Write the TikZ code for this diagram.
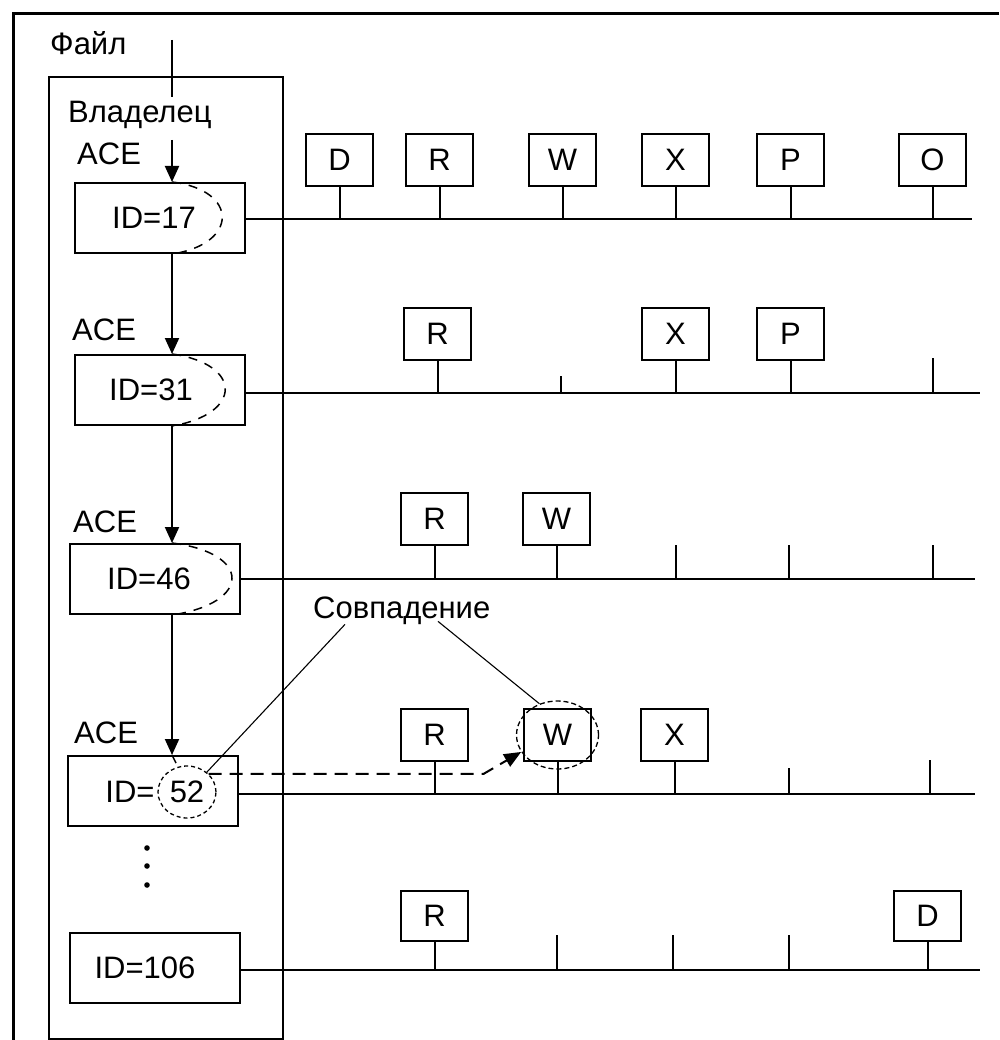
\documentclass[tikz,border=0pt]{standalone}
\usepackage{fontspec}
\setmainfont{Liberation Sans}
\usetikzlibrary{arrows.meta,calc,shapes.geometric}
\begin{document}
\begin{tikzpicture}[x=1pt,y=-1pt,
  every node/.style={font=\fontsize{31}{36}\selectfont, inner sep=0pt},
  ln/.style={line width=2pt},
  idbox/.style={draw, line width=2pt, minimum width=170pt, minimum height=70pt, anchor=north west},
  lbox/.style={draw, line width=2pt, minimum width=67pt, minimum height=52pt, anchor=north west},
  arr/.style={line width=2pt, -{Triangle[width=14pt,length=16pt]}},
  dcurve/.style={line width=1.5pt, dash pattern=on 9pt off 8pt},
  dsh/.style={line width=2pt, dash pattern=on 13pt off 8pt},
  thinl/.style={line width=1.1pt},
  lbl/.style={anchor=base west}
]
\useasboundingbox (0,0) rectangle (999,1040);
% outer frame
\draw[line width=3pt] (13,1040) -- (13,14) -- (999,14);
% file container
\node[draw, line width=2pt, minimum width=234pt, minimum height=962pt, anchor=north west] (file) at (48,76) {};
\node[lbl] (fl) at (50,55) {Файл};
\node[lbl] (own) at (68,123) {Владелец};
\coordinate (ftop) at (172,40);
\coordinate (fbot) at (172,97);
\draw[ln] (ftop) -- (fbot);
\coordinate (ax) at (172,140);
% ACE labels
\node[lbl] (ace1) at (77,165) {ACE};
\node[lbl] (ace2) at (72,340) {ACE};
\node[lbl] (ace3) at (73,532) {ACE};
\node[lbl] (ace4) at (74,743) {ACE};
% ID boxes
\node[idbox] (b1) at (74,182) {ID=17\hspace*{12pt}};
\node[idbox] (b2) at (74,354) {ID=31\hspace*{18pt}};
\node[idbox] (b3) at (69,543) {ID=46\hspace*{12pt}};
\node[idbox] (b4) at (67,755) {};
\node[idbox] (b5) at (69,932) {ID=106\hspace*{20pt}};
\node (id4) at (130,792) {ID=};
\node[draw, ellipse, dash pattern=on 4pt off 3pt, line width=1.3pt, minimum width=58pt, minimum height=52pt] (n52) at (187,792) {52};
% arrows between ACEs
\draw[arr] (ax) -- (b1.north -| ax);
\draw[arr] (b1.south -| ax) -- (b2.north -| ax);
\draw[arr] (b2.south -| ax) -- (b3.north -| ax);
\draw[arr] (b3.south -| ax) -- (b4.north -| ax);
% dashed curves
\draw[dcurve] (b1.north -| ax) .. controls +(67,8) and +(67,-10) .. (b1.south -| ax);
\draw[dcurve] (b2.north -| ax) .. controls +(71,10) and +(71,-12) .. (b2.south -| ax);
\draw[dcurve] (b3.north -| ax) .. controls +(80,10) and +(80,-12) .. (b3.south -| ax);
\draw[dcurve] (b4.north -| ax) -- (n52.110);
% dots
\fill (147,848) circle (2.8pt) (147,866) circle (2.8pt) (147,885) circle (2.8pt);
% row line ends
\coordinate (e1) at (972,219);
\coordinate (e2) at (980,393);
\coordinate (e3) at (975,579);
\coordinate (e4) at (975,794);
\coordinate (e5) at (980,970);
\draw[ln] (b1.east |- e1) -- (e1);
\draw[ln] (b2.east |- e2) -- (e2);
\draw[ln] (b3.east |- e3) -- (e3);
\draw[ln] (b4.east |- e4) -- (e4);
\draw[ln] (b5.east |- e5) -- (e5);
% row 1
\foreach \n/\x/\t in {D/305/D, R/405/R, W/528/W, X/641/X, P/756/P, O/898/O}{
  \node[lbox] (a\n) at (\x,133) {\t};
  \draw[ln] (a\n.south) -- (a\n.south |- e1);
}
% row 2
\foreach \n/\x/\t in {R/403/R, X/641/X, P/756/P}{
  \node[lbox] (c\n) at (\x,307) {\t};
  \draw[ln] (c\n.south) -- (c\n.south |- e2);
}
\draw[ln] (561,376) -- (561,376 |- e2);
\draw[ln] (933,358) -- (933,358 |- e2);
% row 3
\foreach \n/\x/\t in {R/400/R, W/522/W}{
  \node[lbox] (d\n) at (\x,492) {\t};
  \draw[ln] (d\n.south) -- (d\n.south |- e3);
}
\foreach \x in {676,789,933}{ \draw[ln] (\x,545) -- (\x,545 |- e3); }
% row 4
\foreach \n/\x/\t in {R/400/R, W/523/W, X/640/X}{
  \node[lbox] (f\n) at (\x,708) {\t};
  \draw[ln] (f\n.south) -- (f\n.south |- e4);
}
\draw[ln] (789,768) -- (789,768 |- e4);
\draw[ln] (930,760) -- (930,760 |- e4);
\node[draw, ellipse, dash pattern=on 5pt off 3pt, line width=1.3pt, minimum width=82pt, minimum height=68pt] (wc) at (fW.center) {};
% row 5
\foreach \n/\x/\t in {R/400/R, D/893/D}{
  \node[lbox, minimum height=50pt] (g\n) at (\x,890) {\t};
  \draw[ln] (g\n.south) -- (g\n.south |- e5);
}
\foreach \x in {557,673,789}{ \draw[ln] (\x,935) -- (\x,935 |- e5); }
% match annotation
\node[lbl] (sov) at (313,618) {Совпадение};
\draw[thinl] ($(sov.south west)+(32,0)$) -- (n52.45);
\draw[thinl] ($(sov.south west)+(125,-3)$) -- (wc.120);
\draw[dsh, -{Triangle[width=14pt,length=17pt]}] (n52.40) -- ++(275,0) -- (wc.205);
\end{tikzpicture}
\end{document}
